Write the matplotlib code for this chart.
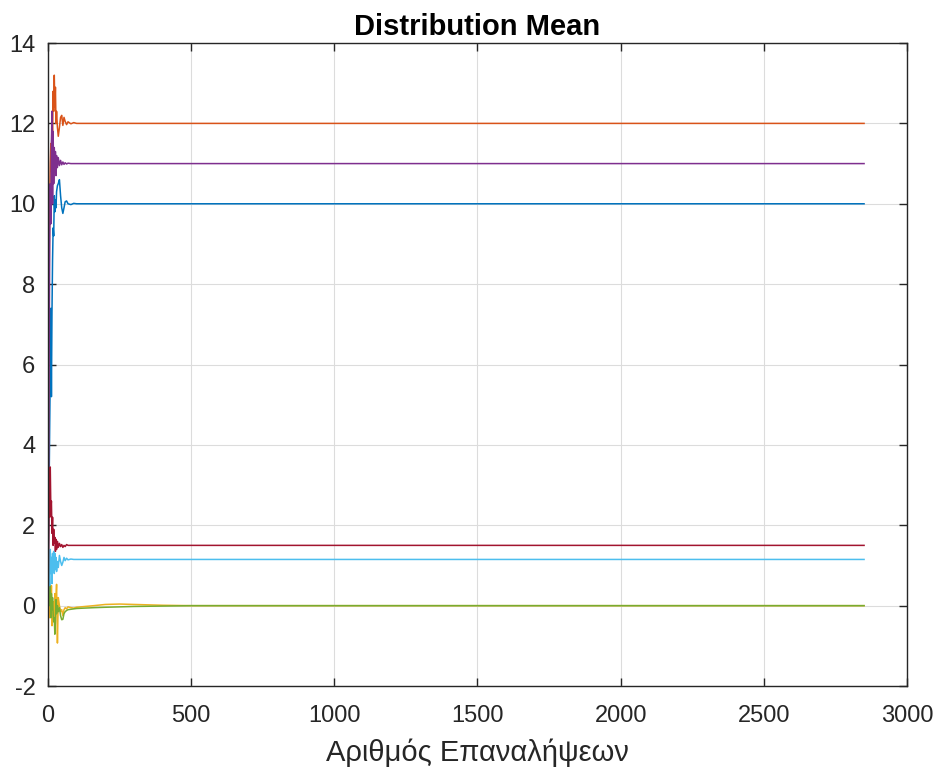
import matplotlib
matplotlib.use("Agg")
import matplotlib.pyplot as plt

plt.rcParams['font.family'] = ['Liberation Sans', 'DejaVu Sans']
plt.rcParams['axes.unicode_minus'] = False

iters = [1, 2, 4, 6, 8, 10, 12, 14, 16, 18, 20, 22, 24, 26, 28, 30, 33, 36, 40, 44,
         48, 52, 56, 60, 65, 70, 80, 90, 100, 130, 160, 200, 250, 300, 400, 500, 2850]

blue = [0.2, 1.5, 3.0, 4.5, 5.8, 7.4, 5.2, 7.3, 8.6, 9.4, 9.2, 10.2, 9.8, 10.1, 9.9, 10.3, 10.45, 10.5, 10.6, 10.2,
        9.9, 9.76, 9.9, 10.05, 10.07, 10.0, 9.98, 10.01, 10.0, 10.0, 10.0, 10.0, 10.0, 10.0, 10.0, 10.0, 10.0]
orange = [0.5, 4.0, 8.0, 10.0, 11.0, 11.5, 10.8, 12.3, 11.6, 12.8, 12.3, 13.2, 12.4, 12.9, 12.0, 12.3, 11.9, 11.68, 11.9, 12.15,
          12.2, 11.95, 12.15, 12.05, 11.97, 12.04, 11.99, 12.02, 12.0, 12.0, 12.0, 12.0, 12.0, 12.0, 12.0, 12.0, 12.0]
yellow = [0.8, 0.4, 0.2, -0.3, 0.2, -0.2, 0.5, -0.5, 0.1, -0.3, 0.1, -0.4, 0.3, 0.1, 0.2, 0.53, -0.93, 0.2, 0.0, -0.15,
          -0.1, -0.25, -0.1, -0.05, -0.08, -0.03, -0.05, -0.06, -0.04, -0.02, 0.0, 0.03, 0.04, 0.03, 0.01, 0.0, 0.0]
purple = [0.3, 3.0, 6.0, 9.0, 10.5, 9.5, 11.5, 12.3, 10.0, 11.8, 10.5, 11.4, 10.8, 11.3, 10.7, 11.2, 10.9, 11.15, 10.95, 11.08,
          10.97, 11.04, 10.98, 11.02, 10.99, 11.01, 11.0, 11.0, 11.0, 11.0, 11.0, 11.0, 11.0, 11.0, 11.0, 11.0, 11.0]
green = [0.1, 0.6, 0.3, 0.0, 0.5, -0.3, 0.3, -0.1, 0.2, -0.2, -0.4, -0.3, -0.71, -0.4, 0.15, -0.2, 0.0, -0.15, -0.05, -0.25,
         -0.35, -0.34, -0.2, -0.15, -0.12, -0.1, -0.09, -0.08, -0.07, -0.06, -0.05, -0.04, -0.03, -0.02, -0.01, 0.0, 0.0]
cyan = [0.2, 0.6, 1.0, 0.5, 1.4, 0.8, 1.2, 0.55, 1.3, 0.9, 1.35, 0.8, 1.3, 0.9, 1.2, 0.85, 1.1, 0.95, 1.25, 1.1,
        1.0, 1.08, 1.2, 1.12, 1.18, 1.14, 1.16, 1.15, 1.15, 1.15, 1.15, 1.15, 1.15, 1.15, 1.15, 1.15, 1.15]
darkred = [0.3, 1.5, 2.8, 2.2, 3.45, 2.4, 2.6, 1.8, 2.2, 1.5, 1.9, 1.55, 1.7, 1.35, 1.65, 1.4, 1.6, 1.45, 1.55, 1.47,
           1.52, 1.45, 1.5, 1.47, 1.52, 1.5, 1.5, 1.5, 1.5, 1.5, 1.5, 1.5, 1.5, 1.5, 1.5, 1.5, 1.5]

series = [blue, orange, yellow, purple, green, cyan, darkred]
colors = ['#0072BD', '#D95319', '#EDB120', '#7E2F8E', '#77AC30', '#4DBEEE', '#A2142F']

fig = plt.figure(figsize=(9.37, 7.71), dpi=100)
ax = fig.add_axes([0.0512, 0.1102, 0.9168, 0.834])
for ys, c in zip(series, colors):
    ax.plot(iters, ys, color=c, lw=1.1)

ax.set_xlim(0, 3000)
ax.set_ylim(-2, 14)
ax.set_xticks(range(0, 3001, 500))
ax.set_yticks(range(-2, 15, 2))
ax.grid(True, color='#dcdcdc', lw=0.8)
ax.set_axisbelow(True)
for s in ax.spines.values():
    s.set_color('#262626')
    s.set_linewidth(1.0)
ax.tick_params(direction='in', length=6, width=1.0, top=True, right=True,
               labelsize=17, colors='#262626')
ax.tick_params(axis='x', pad=14)
ax.tick_params(axis='y', pad=9)
ax.set_title('Distribution Mean', fontsize=21, fontweight='bold', pad=6)
ax.set_xlabel('Αριθμός Επαναλήψεων', fontsize=21, color='#262626', labelpad=8)
fig.savefig('out.png', dpi=100)
